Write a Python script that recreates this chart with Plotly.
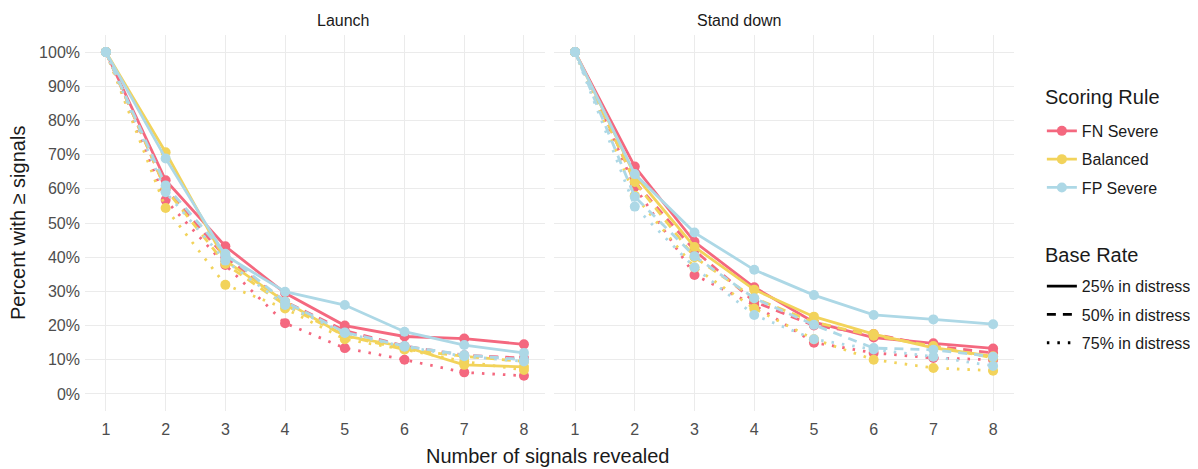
import plotly.graph_objects as go

signals = [1, 2, 3, 4, 5, 6, 7, 8]
y_ticks = [0, 10, 20, 30, 40, 50, 60, 70, 80, 90, 100]
y_tick_labels = [f"{v}%" for v in y_ticks]
panels = ["Launch", "Stand down"]
rules = ["FN Severe", "Balanced", "FP Severe"]
base_rates = ["25% in distress", "50% in distress", "75% in distress"]

# Launch panel
launch_fn_25 = [100, 62.5, 43.2, 29.5, 20.0, 16.8, 16.2, 14.5]
launch_fn_50 = [100, 60.0, 40.0, 27.0, 18.5, 14.0, 11.3, 10.5]
launch_fn_75 = [100, 56.7, 37.7, 20.7, 13.4, 10.0, 6.3, 5.3]
launch_bal_25 = [100, 70.7, 39.0, 27.0, 17.0, 13.8, 8.5, 7.9]
launch_bal_50 = [100, 60.0, 38.0, 26.0, 17.0, 13.0, 11.0, 9.5]
launch_bal_75 = [100, 54.4, 31.9, 25.0, 16.0, 13.0, 9.5, 7.0]
launch_fp_25 = [100, 68.9, 40.5, 29.9, 26.0, 18.2, 14.3, 12.0]
launch_fp_50 = [100, 61.0, 41.0, 27.0, 18.0, 14.0, 11.4, 10.0]
launch_fp_75 = [100, 59.0, 39.0, 26.0, 17.8, 13.8, 11.0, 9.5]

# Stand down panel
stand_fn_25 = [100, 66.5, 44.5, 31.2, 21.0, 16.5, 14.8, 13.3]
stand_fn_50 = [100, 62.0, 42.0, 27.0, 20.0, 17.5, 14.0, 12.0]
stand_fn_75 = [100, 60.6, 34.8, 26.0, 15.0, 12.0, 10.5, 10.0]
stand_bal_25 = [100, 64.0, 43.0, 30.5, 22.6, 17.5, 13.5, 11.0]
stand_bal_50 = [100, 62.0, 40.0, 28.0, 21.0, 17.0, 14.0, 10.5]
stand_bal_75 = [100, 58.0, 37.0, 25.0, 16.0, 10.0, 7.6, 6.8]
stand_fp_25 = [100, 64.3, 47.2, 36.3, 28.9, 23.1, 21.8, 20.4]
stand_fp_50 = [100, 57.7, 40.3, 28.0, 20.2, 13.4, 12.9, 10.9]
stand_fp_75 = [100, 54.8, 37.0, 23.1, 16.0, 13.0, 10.9, 8.2]

data = {
    "Launch": {
        "FN Severe": [launch_fn_25, launch_fn_50, launch_fn_75],
        "Balanced": [launch_bal_25, launch_bal_50, launch_bal_75],
        "FP Severe": [launch_fp_25, launch_fp_50, launch_fp_75],
    },
    "Stand down": {
        "FN Severe": [stand_fn_25, stand_fn_50, stand_fn_75],
        "Balanced": [stand_bal_25, stand_bal_50, stand_bal_75],
        "FP Severe": [stand_fp_25, stand_fp_50, stand_fp_75],
    },
}

colors = {"FN Severe": "#F4687F", "Balanced": "#F2D35B", "FP Severe": "#ADD8E6"}
dashes = ["solid", "9px,7px", "2.5px,8px"]
LW = 2.8
MS = 10

fig = go.Figure()
axes = {"Launch": ("x", "y"), "Stand down": ("x2", "y2")}

for panel in panels:
    xa, ya = axes[panel]
    for rule in rules:
        for i, br in enumerate(base_rates):
            fig.add_trace(go.Scatter(
                x=signals, y=data[panel][rule][i], xaxis=xa, yaxis=ya,
                mode="lines+markers",
                line=dict(color=colors[rule], width=LW, dash=dashes[i]),
                marker=dict(color=colors[rule], size=MS),
                showlegend=False, hoverinfo="skip",
            ))

# Legend entries: Scoring Rule
for rule in rules:
    fig.add_trace(go.Scatter(
        x=[None], y=[None], mode="lines+markers", name=rule,
        line=dict(color=colors[rule], width=LW),
        marker=dict(color=colors[rule], size=MS),
        legend="legend", legendgroup=rule, showlegend=True,
    ))
# Legend entries: Base Rate
for i, br in enumerate(base_rates):
    fig.add_trace(go.Scatter(
        x=[None], y=[None], mode="lines", name=br,
        line=dict(color="black", width=LW, dash=dashes[i]),
        legend="legend2", legendgroup=br, showlegend=True,
    ))

font_family = "Liberation Sans, Arial, sans-serif"
axis_common = dict(
    showgrid=True, gridcolor="#EBEBEB", gridwidth=1.3, zeroline=False,
    showline=False, ticks="", tickfont=dict(size=16, color="#4D4D4D", family=font_family),
)

fig.update_layout(
    width=1190, height=461,
    margin=dict(l=77, r=184, t=27, b=58, autoexpand=False),
    paper_bgcolor="white", plot_bgcolor="white",
    font=dict(family=font_family),
    xaxis=dict(domain=[0, 0.495], range=[0.65, 8.35], tickvals=signals, ticklabelstandoff=7, **axis_common),
    xaxis2=dict(domain=[0.505, 1], range=[0.65, 8.35], tickvals=signals, anchor="y2", ticklabelstandoff=7, **axis_common),
    yaxis=dict(range=[-5, 105], tickvals=y_ticks, ticktext=y_tick_labels, ticklabelstandoff=4, **axis_common),
    yaxis2=dict(range=[-5, 105], tickvals=y_ticks, showticklabels=False, anchor="x2", matches="y", **axis_common),
    legend=dict(
        x=1.030, y=0.790, xanchor="left", yanchor="top",
        font=dict(size=16, color="#1A1A1A"), tracegroupgap=4.5, itemwidth=30,
        traceorder="grouped", bgcolor="rgba(0,0,0,0)",
    ),
    legend2=dict(
        x=1.030, y=0.377, xanchor="left", yanchor="top",
        font=dict(size=16, color="#1A1A1A"), tracegroupgap=4.5, itemwidth=30,
        traceorder="grouped", bgcolor="rgba(0,0,0,0)",
    ),
    annotations=[
        dict(text="Launch", x=0.2475, y=1.038, xref="paper", yref="paper",
             showarrow=False, font=dict(size=16, color="#1A1A1A"), yanchor="middle"),
        dict(text="Stand down", x=0.7525, y=1.038, xref="paper", yref="paper",
             showarrow=False, font=dict(size=16, color="#1A1A1A"), yanchor="middle"),
        dict(text="Number of signals revealed", x=0.498, y=-0.1197, xref="paper", yref="paper",
             showarrow=False, font=dict(size=20, color="#1A1A1A"), yanchor="middle"),
        dict(text="Percent with ≥ signals", x=-0.0721, y=0.5, xref="paper", yref="paper",
             showarrow=False, textangle=-90, font=dict(size=20, color="#1A1A1A"),
             xanchor="center", yanchor="middle"),
        dict(text="Scoring Rule", x=1.0312, y=0.835, xref="paper", yref="paper",
             showarrow=False, font=dict(size=20, color="#1A1A1A"),
             xanchor="left", yanchor="middle"),
        dict(text="Base Rate", x=1.0312, y=0.415, xref="paper", yref="paper",
             showarrow=False, font=dict(size=20, color="#1A1A1A"),
             xanchor="left", yanchor="middle"),
    ],
)

fig.write_html("out.html")
